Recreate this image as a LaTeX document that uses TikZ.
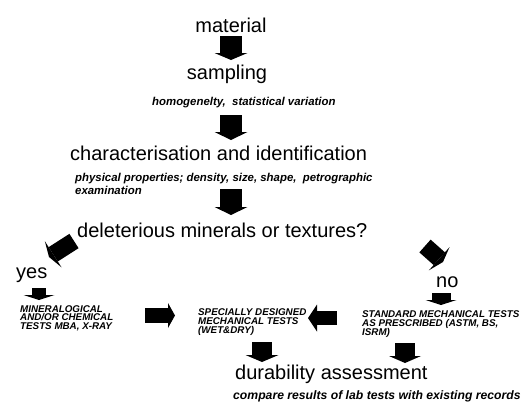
\documentclass[tikz,border=0pt]{standalone}
\usepackage{fontspec}
\setmainfont{Liberation Sans}
\usetikzlibrary{arrows.meta}

\tikzset{
  title/.style={inner sep=0pt, font=\fontsize{20}{24}\selectfont},
  note/.style={inner sep=0pt, align=left, font=\bfseries\itshape\fontsize{11.4}{12.6}\selectfont},
  caps/.style={inner sep=0pt, align=left, font={\bfseries\itshape\fontsize{9.8}{8.8}\selectfont\lineskiplimit=-10pt}},
  fat/.style args={#1/#2/#3}{line width=#1pt, -{Triangle[width=#2pt, length=#3pt, line width=0pt]}}
}

\begin{document}
\begin{tikzpicture}[x=1pt, y=-1pt]
    \useasboundingbox (0,0) rectangle (525,408);

    % main steps
    \node[title, anchor=base] (material) at (231,32) {material};
    \node[title, anchor=base] (sampling) at (227,79) {sampling};
    \node[note, anchor=base west] (homog) at (152,105.5) {homogenelty,~~statistical variation};
    \node[title, anchor=base west] (charact) at (70,160.5) {characterisation and identification};
    \node[note, anchor=north west] (phys) at (75,173.5) {physical properties; density, size, shape,~~petrographic\\examination};
    \node[title, anchor=base west] (delet) at (77,237) {deleterious minerals or textures?};

    % the two branches
    \node[title, anchor=base west] (yes) at (16,278.5) {yes};
    \node[title, anchor=base west] (no) at (436,287) {no};
    \node[caps, anchor=north west] (minchem) at (20,305) {MINERALOGICAL\\AND/OR CHEMICAL\\TESTS MBA, X-RAY};
    \node[caps, anchor=north west] (special) at (198,308.5) {SPECIALLY DESIGNED\\MECHANICAL TESTS\\(WET\&DRY)};
    \node[caps, anchor=north west] (standard) at (362,310.5) {STANDARD MECHANICAL TESTS\\AS PRESCRIBED (ASTM, BS,\\ISRM)};

    \node[title, anchor=base west] (durab) at (235,379) {durability assessment};
    \node[note, font=\bfseries\itshape\fontsize{12.2}{14}\selectfont, anchor=base west] (compare) at (233,399) {compare results of lab tests with existing records};

    % block arrows: tail and tip of each
    \coordinate (t1) at (231,36);   \coordinate (h1) at (231,60);
    \coordinate (t2) at (231,115);  \coordinate (h2) at (231,140);
    \coordinate (t3) at (231,189);  \coordinate (h3) at (231,215);
    \coordinate (ty) at (74,241);   \coordinate (hy) at (49,257);
    \coordinate (tn) at (425,246);  \coordinate (hn) at (443,262);
    \coordinate (ty2) at (39,288);  \coordinate (hy2) at (39,300);
    \coordinate (tn2) at (441,293); \coordinate (hn2) at (441,305);
    \coordinate (tl) at (145,315.5); \coordinate (hl) at (175,315.5);
    \coordinate (tr) at (337,318);  \coordinate (hr) at (308,318);
    \coordinate (tb1) at (262,342); \coordinate (hb1) at (262,362);
    \coordinate (tb2) at (405,343); \coordinate (hb2) at (405,363);

    \draw[fat=22/33/7] (t1) -- (h1);
    \draw[fat=22/33/8] (t2) -- (h2);
    \draw[fat=22/33/8] (t3) -- (h3);
    \draw[fat=17/31/5] (ty) -- (hy);
    \draw[fat=17/31/5] (tn) -- (hn);
    \draw[fat=14/31/5] (ty2) -- (hy2);
    \draw[fat=19/31/5] (tn2) -- (hn2);
    \draw[fat=15/25/7] (tl) -- (hl);
    \draw[fat=14/27/9] (tr) -- (hr);
    \draw[fat=20/33/7] (tb1) -- (hb1);
    \draw[fat=20/32/7] (tb2) -- (hb2);
\end{tikzpicture}
\end{document}
